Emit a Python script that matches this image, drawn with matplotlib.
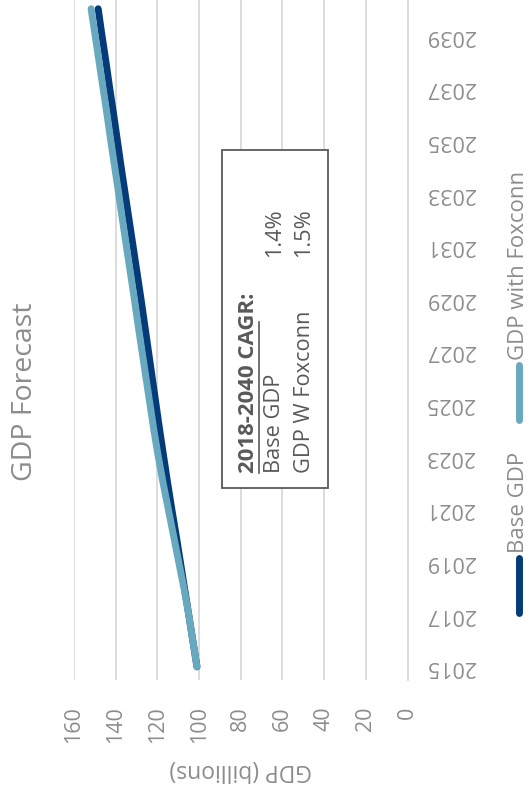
import matplotlib
matplotlib.use("Agg")
import matplotlib.pyplot as plt
from matplotlib.lines import Line2D
from matplotlib.patches import Rectangle

plt.rcParams['font.family'] = ['Open Sans', 'DejaVu Sans']

# ---- data ----
years = list(range(2015, 2041))
base_gdp = [101.0, 103.0, 105.0, 107.0, 109.0, 111.0, 113.1, 115.1, 117.0, 118.9,
            120.7, 122.5, 124.3, 126.1, 127.9, 129.8, 131.7, 133.6, 135.5, 137.4,
            139.2, 141.0, 142.9, 144.7, 146.6, 148.4]
foxconn_gdp = [101.0, 103.0, 105.0, 107.3, 109.8, 112.3, 114.8, 117.3, 119.6, 121.7,
               123.6, 125.5, 127.4, 129.3, 131.1, 133.0, 134.9, 136.8, 138.6, 140.5,
               142.4, 144.2, 146.1, 148.0, 149.9, 151.8]
series_names = ["Base GDP", "GDP with Foxconn"]
series_colors = ["#063B7A", "#69A9BF"]
year_ticks = list(range(2015, 2040, 2))
gdp_ticks = [0, 20, 40, 60, 80, 100, 120, 140, 160]
cagr_title = "2018-2040 CAGR:"
cagr_labels = ["Base GDP", "GDP W Foxconn"]
cagr_values = ["1.4%", "1.5%"]

W, H = 531, 792
fig = plt.figure(figsize=(W / 100, H / 100), dpi=100)

def fx(px):
    return px / W

def fy(py):
    return 1 - py / H

gray = "#8C8C8C"
box_gray = "#595959"

# plot area (chart is laid out turned on its side: value axis runs right-to-left)
left_px, right_px = 74, 407.5
top_px, bot_px = -4.4, 680
ax = fig.add_axes([fx(left_px), fy(bot_px), (right_px - left_px) / W, (bot_px - top_px) / H])
ax.set_xlim(160, 0)
ax.set_ylim(2014.5, 2040.5)

for vals, color in zip([base_gdp, foxconn_gdp], series_colors):
    ax.plot(vals, years, color=color, lw=5.0, solid_capstyle='round', zorder=3)

ax.set_xticks(gdp_ticks)
ax.set_xticklabels([str(v) for v in gdp_ticks])
ax.set_yticks(year_ticks)
ax.set_yticklabels([str(y) for y in year_ticks])
ax.yaxis.tick_right()
ax.tick_params(axis='x', length=0, pad=19, labelsize=15.5, labelcolor=gray, labelrotation=90)
ax.tick_params(axis='y', length=0, pad=13, labelsize=15.5, labelcolor=gray, labelrotation=180)
for lbl in ax.get_yticklabels():
    lbl.set_va('center')
ax.grid(axis='x', color='#D9D9D9', lw=1.3, zorder=0)
for s in ['left', 'top', 'bottom']:
    ax.spines[s].set_visible(False)
ax.spines['right'].set_color('#D9D9D9')
ax.spines['right'].set_linewidth(1.3)
ax.set_facecolor('none')

# axis title
fig.text(fx(241), fy(770), "GDP (billions)", rotation=180, ha='center', va='center',
         fontsize=16.5, color=gray)

# chart title
fig.text(fx(25), fy(392), "GDP Forecast", rotation=90, ha='center', va='center',
         fontsize=20.5, color=gray)

# legend along the right edge
legend_spans = [(558, 613), (365, 420)]
legend_text_start = [553, 360]
for name, color, (y1, y2), ty in zip(series_names, series_colors, legend_spans, legend_text_start):
    fig.add_artist(Line2D([fx(519), fx(519)], [fy(y1), fy(y2)], color=color, lw=5,
                          solid_capstyle='round', transform=fig.transFigure))
    fig.text(fx(518), fy(ty), name, rotation=90, ha='center', va='bottom',
             fontsize=16, color=gray)

# CAGR text box
fig.add_artist(Rectangle((fx(222), fy(488)), (328 - 222) / W, (488 - 150) / H,
                         transform=fig.transFigure, fill=True, facecolor='white',
                         edgecolor=box_gray, lw=1.3, zorder=5))
fig.text(fx(248), fy(473), cagr_title, rotation=90, ha='center', va='bottom',
         fontsize=16, fontweight='bold', color=box_gray, zorder=6)
fig.add_artist(Line2D([fx(258.5), fx(258.5)], [fy(322), fy(473)], color=box_gray, lw=1.2,
                      transform=fig.transFigure, zorder=6))
for i, (lab, val) in enumerate(zip(cagr_labels, cagr_values)):
    xc = 275 + 29 * i
    fig.text(fx(xc), fy(473), lab, rotation=90, ha='center', va='bottom',
             fontsize=15.7, color=box_gray, zorder=6)
    fig.text(fx(xc), fy(208), val, rotation=90, ha='center', va='top',
             fontsize=15.7, color=box_gray, zorder=6)

fig.savefig("out.png", dpi=100)
